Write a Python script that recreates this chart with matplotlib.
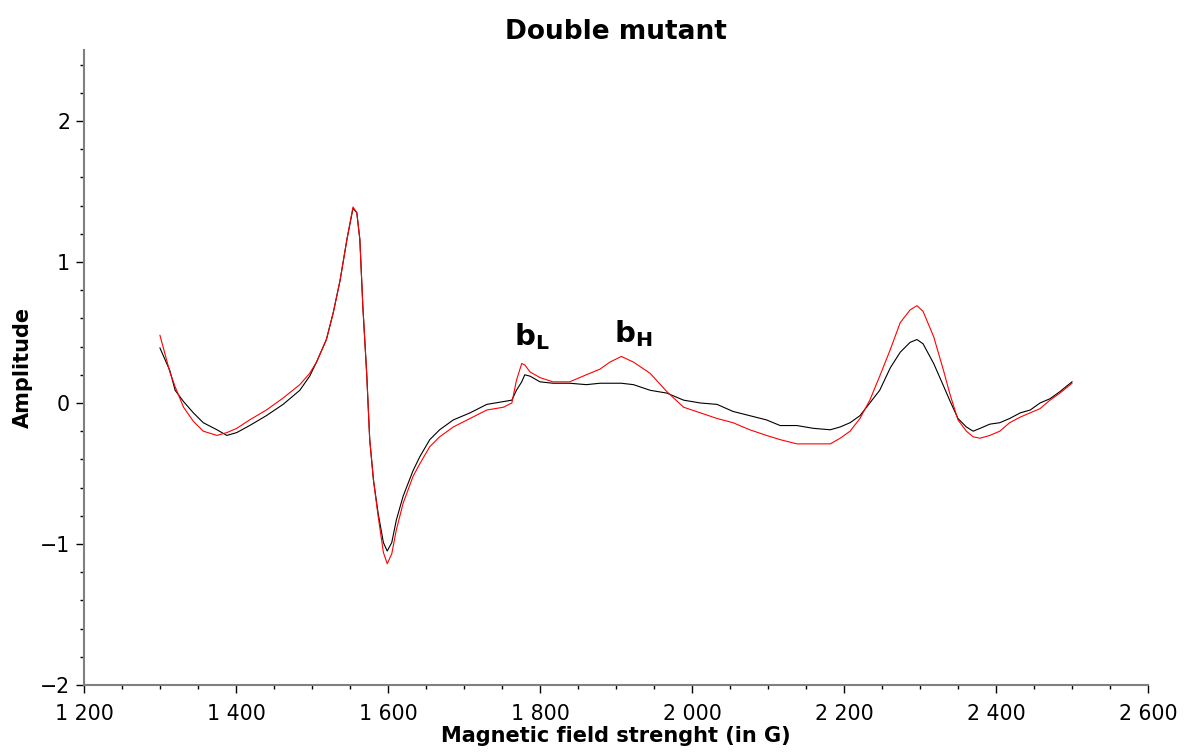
import numpy as np
import matplotlib
matplotlib.use("Agg")
import matplotlib.pyplot as plt
from matplotlib.ticker import MultipleLocator, FuncFormatter

field = [1300, 1313, 1320, 1331, 1344, 1357, 1375, 1388, 1401, 1418, 1440, 1462,
         1484, 1497, 1506, 1519, 1528, 1537, 1546, 1554, 1559, 1563, 1567, 1572,
         1576, 1581, 1587, 1594, 1599, 1605, 1611, 1620, 1633, 1642, 1655, 1668,
         1686, 1708, 1730, 1752, 1763, 1769, 1776, 1780, 1787, 1800, 1817, 1839,
         1861, 1879, 1892, 1907, 1923, 1945, 1967, 1989, 2011, 2033, 2054, 2076,
         2098, 2116, 2138, 2160, 2182, 2195, 2208, 2221, 2234, 2247, 2261, 2274,
         2287, 2296, 2304, 2318, 2331, 2339, 2350, 2361, 2370, 2379, 2392, 2405,
         2418, 2432, 2445, 2458, 2471, 2484, 2500]

black_amp = [0.39, 0.23, 0.09, 0.01, -0.07, -0.14, -0.19, -0.23, -0.21, -0.16, -0.09, -0.01,
             0.09, 0.19, 0.29, 0.45, 0.64, 0.87, 1.16, 1.38, 1.35, 1.16, 0.68, 0.21,
             -0.26, -0.55, -0.78, -0.99, -1.05, -0.99, -0.83, -0.66, -0.48, -0.38, -0.26, -0.19,
             -0.12, -0.07, -0.01, 0.01, 0.02, 0.09, 0.15, 0.20, 0.19, 0.15, 0.14, 0.14,
             0.13, 0.14, 0.14, 0.14, 0.13, 0.09, 0.07, 0.02, 0.00, -0.01, -0.06, -0.09,
             -0.12, -0.16, -0.16, -0.18, -0.19, -0.17, -0.14, -0.09, 0.00, 0.09, 0.25, 0.36,
             0.43, 0.45, 0.42, 0.28, 0.12, 0.02, -0.11, -0.17, -0.20, -0.18, -0.15, -0.14,
             -0.11, -0.07, -0.05, 0.00, 0.03, 0.08, 0.15]

red_amp = [0.48, 0.22, 0.115, -0.03, -0.13, -0.20, -0.23, -0.21, -0.18, -0.12, -0.05, 0.035,
           0.13, 0.21, 0.29, 0.45, 0.64, 0.87, 1.16, 1.39, 1.35, 1.16, 0.68, 0.21,
           -0.26, -0.55, -0.80, -1.06, -1.14, -1.07, -0.90, -0.71, -0.52, -0.43, -0.31, -0.24,
           -0.17, -0.11, -0.05, -0.03, 0.00, 0.16, 0.28, 0.27, 0.22, 0.18, 0.15, 0.15,
           0.20, 0.24, 0.29, 0.33, 0.29, 0.21, 0.08, -0.03, -0.07, -0.11, -0.14, -0.19,
           -0.23, -0.26, -0.29, -0.29, -0.29, -0.25, -0.20, -0.11, 0.02, 0.19, 0.38, 0.57,
           0.66, 0.69, 0.65, 0.47, 0.23, 0.07, -0.12, -0.20, -0.24, -0.25, -0.23, -0.20,
           -0.14, -0.10, -0.07, -0.04, 0.02, 0.07, 0.14]

labels = [r"$\mathbf{b_L}$", r"$\mathbf{b_H}$"]
label_pos = [(1766, 0.41), (1897, 0.43)]

fig = plt.figure(figsize=(11.84, 7.53), dpi=100)
ax = fig.add_axes([0.0709, 0.0903, 0.8987, 0.8427])

ax.plot(field, black_amp, color="black", lw=0.8)
ax.plot(field, red_amp, color="#ff0000", lw=0.8)

for txt, (x, y) in zip(labels, label_pos):
    ax.text(x, y, txt, fontsize=21, ha="left", va="baseline")

ax.set_xlim(1200, 2600)
ax.set_ylim(-2, 2.5)
ax.xaxis.set_major_locator(MultipleLocator(200))
ax.xaxis.set_minor_locator(MultipleLocator(50))
ax.yaxis.set_major_locator(MultipleLocator(1))
ax.yaxis.set_minor_locator(MultipleLocator(0.2))

def thousands(v, pos):
    s = "{:,.0f}".format(v).replace(",", " ")
    return s.replace("-", "\u2212")

ax.xaxis.set_major_formatter(FuncFormatter(thousands))
ax.yaxis.set_major_formatter(FuncFormatter(thousands))

for side in ["top", "right"]:
    ax.spines[side].set_visible(False)
for side in ["left", "bottom"]:
    ax.spines[side].set_color("#808080")
    ax.spines[side].set_linewidth(1.5)

ax.tick_params(which="major", length=6, width=1, labelsize=14.8, pad=4)
ax.tick_params(axis="x", which="major", pad=8)
ax.tick_params(which="minor", length=3, width=1)

ax.set_title("Double mutant", fontsize=19, fontweight="bold", pad=8)
ax.set_xlabel("Magnetic field strenght (in G)", fontsize=15, fontweight="bold", labelpad=1)
ax.set_ylabel("Amplitude", fontsize=15, fontweight="bold", labelpad=5)

fig.savefig("out.png", dpi=100)
